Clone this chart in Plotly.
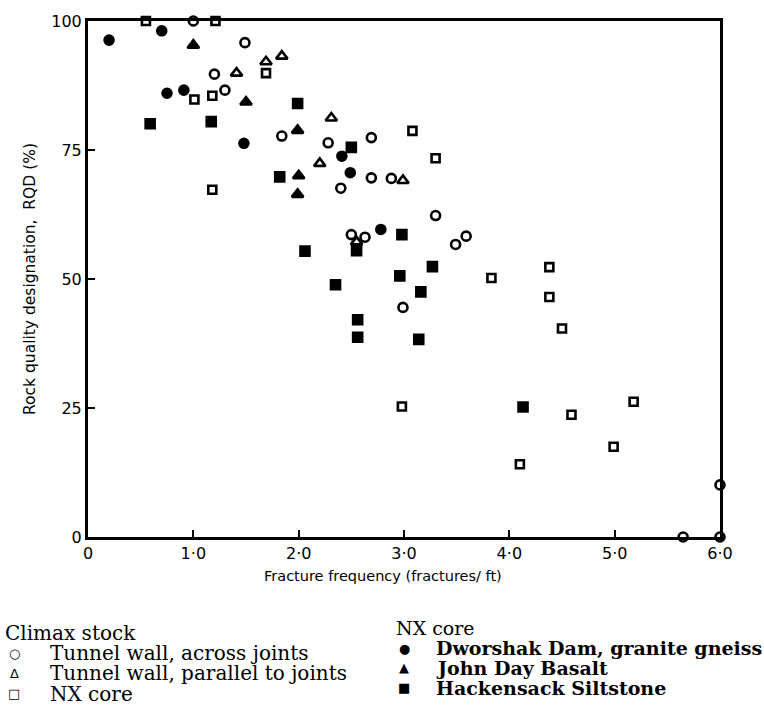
import plotly.graph_objects as go

# ---------------- data ----------------
# Climax stock
tw_across_x = [1.49, 1.20, 1.30, 1.84, 2.28, 2.69, 2.69, 2.88, 2.40, 2.50, 2.63, 3.30, 3.49, 3.59, 2.99, 5.65, 6.00, 6.00, 1.00]
tw_across_y = [95.8, 89.7, 86.6, 77.7, 76.4, 77.4, 69.6, 69.5, 67.6, 58.6, 58.1, 62.3, 56.7, 58.3, 44.5, 0.0, 0.0, 10.1, 100.0]

tw_parallel_x = [1.69, 1.84, 1.41, 2.31, 2.20, 2.99, 2.55]
tw_parallel_y = [92.1, 93.2, 89.9, 81.2, 72.4, 69.1, 57.2]

climax_nx_x = [0.55, 1.21, 1.69, 1.01, 1.18, 1.18, 3.08, 3.30, 3.83, 4.38, 4.38, 4.50, 2.98, 4.59, 5.18, 4.99, 4.10]
climax_nx_y = [100.0, 100.0, 89.9, 84.8, 85.5, 67.3, 78.7, 73.4, 50.2, 52.3, 46.5, 40.4, 25.3, 23.7, 26.2, 17.5, 14.1]

# NX core
dworshak_x = [0.20, 0.70, 0.75, 0.91, 1.48, 2.41, 2.49, 2.78]
dworshak_y = [96.3, 98.1, 86.0, 86.6, 76.3, 73.8, 70.6, 59.6]

john_day_x = [1.00, 1.50, 1.99, 2.00, 1.99]
john_day_y = [95.3, 84.3, 78.8, 70.0, 66.4]

hackensack_x = [0.59, 1.17, 1.99, 1.82, 2.50, 2.06, 2.55, 2.35, 2.56, 2.56, 2.98, 2.96, 3.27, 3.16, 3.14, 4.13]
hackensack_y = [80.1, 80.5, 84.0, 69.8, 75.5, 55.4, 55.5, 48.9, 42.1, 38.7, 58.6, 50.6, 52.4, 47.5, 38.3, 25.2]

x_tickvals = [0, 1, 2, 3, 4, 5, 6]
x_ticktext = ["0", "1·0", "2·0", "3·0", "4·0", "5·0", "6·0"]
y_tickvals = [0, 25, 50, 75, 100]
y_ticktext = ["0", "25", "50", "75", "100"]

x_title = "Fracture frequency (fractures/ ft)"
y_title = "Rock quality designation,  RQD (%)"

left_header = "Climax stock"
left_items = [("○", "Tunnel wall, across joints"),
              ("Δ", "Tunnel wall, parallel to joints"),
              ("□", "NX core")]
right_header = "NX core"
right_items = [("●", "Dworshak Dam, granite gneiss"),
               ("▲", "John Day Basalt"),
               ("■", "Hackensack Siltstone")]

# ---------------- layout geometry ----------------
W, H = 764, 720
L, R, T, B = 88, 44, 13, 183
PW, PH = W - L - R, H - T - B


def pxx(x):
    return (x - L) / PW


def pyy(y):
    return (H - B - y) / PH


fig = go.Figure()


def add(xs, ys, symbol, size, name):
    fig.add_trace(go.Scatter(
        x=xs, y=ys, mode="markers", name=name, cliponaxis=False,
        marker=dict(symbol=symbol, size=size, color="black",
                    line=dict(color="black", width=2.6)),
        showlegend=False))


add(tw_across_x, tw_across_y, "circle-open", 9, "Tunnel wall, across joints")
add(tw_parallel_x, tw_parallel_y, "triangle-up-open", 10, "Tunnel wall, parallel to joints")
add(climax_nx_x, climax_nx_y, "square-open", 8, "NX core")
add(dworshak_x, dworshak_y, "circle", 9, "Dworshak Dam, granite gneiss")
add(john_day_x, john_day_y, "triangle-up", 10, "John Day Basalt")
add(hackensack_x, hackensack_y, "square", 9, "Hackensack Siltstone")

axis_common = dict(showline=True, linecolor="black", linewidth=3, mirror=True,
                   showgrid=False, zeroline=False, ticks="inside", ticklen=7,
                   tickwidth=2, tickcolor="black",
                   tickfont=dict(family="DejaVu Sans", size=16, color="black"))

fig.update_xaxes(range=[0, 6], tickvals=x_tickvals, ticktext=x_ticktext, **axis_common)
fig.update_yaxes(range=[0, 100], tickvals=y_tickvals, ticktext=y_ticktext, **axis_common)

ann = []
ann.append(dict(text=x_title, x=pxx(383), y=pyy(577), xref="paper", yref="paper",
                showarrow=False, xanchor="center", yanchor="middle",
                font=dict(family="DejaVu Sans", size=14.5, color="black")))
ann.append(dict(text=y_title, x=pxx(30), y=pyy(275), xref="paper", yref="paper",
                showarrow=False, xanchor="center", yanchor="middle", textangle=-90,
                font=dict(family="DejaVu Sans", size=15.5, color="black")))

serif = "DejaVu Serif"
ann.append(dict(text=left_header, x=pxx(3), y=pyy(634), xref="paper", yref="paper",
                showarrow=False, xanchor="left", yanchor="middle",
                font=dict(family=serif, size=20, color="black")))
for i, (sym, lab) in enumerate(left_items):
    yy = 655 + 20.5 * i
    ann.append(dict(text=sym, x=pxx(14), y=pyy(yy), xref="paper", yref="paper",
                    showarrow=False, xanchor="center", yanchor="middle",
                    font=dict(family="DejaVu Sans", size=13, color="black")))
    ann.append(dict(text=lab, x=pxx(48), y=pyy(yy), xref="paper", yref="paper",
                    showarrow=False, xanchor="left", yanchor="middle",
                    font=dict(family=serif, size=20, color="black")))

ann.append(dict(text=right_header, x=pxx(394), y=pyy(629), xref="paper", yref="paper",
                showarrow=False, xanchor="left", yanchor="middle",
                font=dict(family=serif, size=19, color="black")))
for i, (sym, lab) in enumerate(right_items):
    yy = 650 + 20 * i
    ann.append(dict(text=sym, x=pxx(404), y=pyy(yy), xref="paper", yref="paper",
                    showarrow=False, xanchor="center", yanchor="middle",
                    font=dict(family="DejaVu Sans", size=13, color="black")))
    ann.append(dict(text="<b>" + lab + "</b>", x=pxx(434), y=pyy(yy), xref="paper", yref="paper",
                    showarrow=False, xanchor="left", yanchor="middle",
                    font=dict(family=serif, size=19, color="black")))

fig.update_layout(width=W, height=H, margin=dict(l=L, r=R, t=T, b=B, pad=0),
                  paper_bgcolor="white", plot_bgcolor="white",
                  annotations=ann, showlegend=False)

fig.write_html("out.html")
